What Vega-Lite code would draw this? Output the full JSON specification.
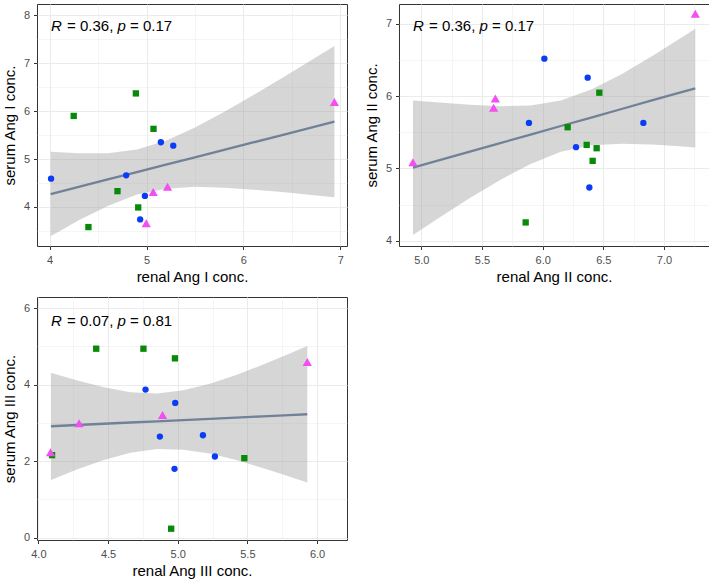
{
  "$schema": "https://vega.github.io/schema/vega-lite/v6.json",
  "padding": {"left": 1, "top": 3, "right": 0, "bottom": 0},
  "background": "white",
  "datasets": {
    "pts": [
      {"panel": "I", "grp": "a", "renal": 4.014, "serum": 4.59},
      {"panel": "I", "grp": "a", "renal": 4.79, "serum": 4.66},
      {"panel": "I", "grp": "a", "renal": 5.148, "serum": 5.35},
      {"panel": "I", "grp": "a", "renal": 5.276, "serum": 5.28},
      {"panel": "I", "grp": "a", "renal": 4.983, "serum": 4.23},
      {"panel": "I", "grp": "a", "renal": 4.934, "serum": 3.74},
      {"panel": "I", "grp": "b", "renal": 4.89, "serum": 6.37},
      {"panel": "I", "grp": "b", "renal": 4.248, "serum": 5.9},
      {"panel": "I", "grp": "b", "renal": 5.072, "serum": 5.63},
      {"panel": "I", "grp": "b", "renal": 4.7, "serum": 4.33},
      {"panel": "I", "grp": "b", "renal": 4.914, "serum": 3.99},
      {"panel": "I", "grp": "b", "renal": 4.4, "serum": 3.58},
      {"panel": "I", "grp": "c", "renal": 6.94, "serum": 6.19},
      {"panel": "I", "grp": "c", "renal": 5.217, "serum": 4.42},
      {"panel": "I", "grp": "c", "renal": 5.069, "serum": 4.31},
      {"panel": "I", "grp": "c", "renal": 4.997, "serum": 3.66},
      {"panel": "II", "grp": "a", "renal": 6.014, "serum": 6.517},
      {"panel": "II", "grp": "a", "renal": 6.371, "serum": 6.254},
      {"panel": "II", "grp": "a", "renal": 5.887, "serum": 5.629},
      {"panel": "II", "grp": "a", "renal": 6.83, "serum": 5.629},
      {"panel": "II", "grp": "a", "renal": 6.275, "serum": 5.293},
      {"panel": "II", "grp": "a", "renal": 6.385, "serum": 4.736},
      {"panel": "II", "grp": "b", "renal": 6.467, "serum": 6.047},
      {"panel": "II", "grp": "b", "renal": 6.206, "serum": 5.569},
      {"panel": "II", "grp": "b", "renal": 6.363, "serum": 5.325},
      {"panel": "II", "grp": "b", "renal": 6.445, "serum": 5.279},
      {"panel": "II", "grp": "b", "renal": 6.412, "serum": 5.104},
      {"panel": "II", "grp": "b", "renal": 5.86, "serum": 4.253},
      {"panel": "II", "grp": "c", "renal": 7.258, "serum": 7.138},
      {"panel": "II", "grp": "c", "renal": 5.61, "serum": 5.965},
      {"panel": "II", "grp": "c", "renal": 5.596, "serum": 5.84},
      {"panel": "II", "grp": "c", "renal": 4.931, "serum": 5.086},
      {"panel": "III", "grp": "b", "renal": 4.415, "serum": 4.939},
      {"panel": "III", "grp": "b", "renal": 4.754, "serum": 4.939},
      {"panel": "III", "grp": "b", "renal": 4.98, "serum": 4.687},
      {"panel": "III", "grp": "b", "renal": 4.098, "serum": 2.157},
      {"panel": "III", "grp": "b", "renal": 5.478, "serum": 2.078},
      {"panel": "III", "grp": "b", "renal": 4.953, "serum": 0.235},
      {"panel": "III", "grp": "a", "renal": 4.769, "serum": 3.87},
      {"panel": "III", "grp": "a", "renal": 4.982, "serum": 3.522},
      {"panel": "III", "grp": "a", "renal": 4.872, "serum": 2.643},
      {"panel": "III", "grp": "a", "renal": 5.181, "serum": 2.678},
      {"panel": "III", "grp": "a", "renal": 5.267, "serum": 2.122},
      {"panel": "III", "grp": "a", "renal": 4.977, "serum": 1.8},
      {"panel": "III", "grp": "c", "renal": 5.93, "serum": 4.59},
      {"panel": "III", "grp": "c", "renal": 4.891, "serum": 3.209},
      {"panel": "III", "grp": "c", "renal": 4.292, "serum": 2.991},
      {"panel": "III", "grp": "c", "renal": 4.087, "serum": 2.235}
    ],
    "fit": [
      {"panel": "I", "renal": 4.01, "fit": 4.27, "lo": 3.39, "hi": 5.15},
      {"panel": "I", "renal": 4.3, "fit": 4.419, "lo": 3.72, "hi": 5.12},
      {"panel": "I", "renal": 4.6, "fit": 4.574, "lo": 4.02, "hi": 5.12},
      {"panel": "I", "renal": 4.9, "fit": 4.728, "lo": 4.26, "hi": 5.2},
      {"panel": "I", "renal": 5.2, "fit": 4.883, "lo": 4.38, "hi": 5.38},
      {"panel": "I", "renal": 5.5, "fit": 5.037, "lo": 4.42, "hi": 5.66},
      {"panel": "I", "renal": 5.8, "fit": 5.192, "lo": 4.4, "hi": 5.98},
      {"panel": "I", "renal": 6.1, "fit": 5.346, "lo": 4.36, "hi": 6.33},
      {"panel": "I", "renal": 6.4, "fit": 5.501, "lo": 4.31, "hi": 6.69},
      {"panel": "I", "renal": 6.7, "fit": 5.655, "lo": 4.25, "hi": 7.06},
      {"panel": "I", "renal": 6.94, "fit": 5.779, "lo": 4.2, "hi": 7.36},
      {"panel": "II", "renal": 4.931, "fit": 5.012, "lo": 4.08, "hi": 5.94},
      {"panel": "II", "renal": 5.15, "fit": 5.115, "lo": 4.32, "hi": 5.91},
      {"panel": "II", "renal": 5.4, "fit": 5.233, "lo": 4.59, "hi": 5.88},
      {"panel": "II", "renal": 5.65, "fit": 5.35, "lo": 4.84, "hi": 5.86},
      {"panel": "II", "renal": 5.9, "fit": 5.468, "lo": 5.06, "hi": 5.87},
      {"panel": "II", "renal": 6.15, "fit": 5.586, "lo": 5.23, "hi": 5.94},
      {"panel": "II", "renal": 6.4, "fit": 5.703, "lo": 5.32, "hi": 6.09},
      {"panel": "II", "renal": 6.65, "fit": 5.821, "lo": 5.34, "hi": 6.3},
      {"panel": "II", "renal": 6.9, "fit": 5.939, "lo": 5.33, "hi": 6.55},
      {"panel": "II", "renal": 7.1, "fit": 6.033, "lo": 5.31, "hi": 6.76},
      {"panel": "II", "renal": 7.258, "fit": 6.107, "lo": 5.29, "hi": 6.93},
      {"panel": "III", "renal": 4.09, "fit": 2.913, "lo": 1.51, "hi": 4.31},
      {"panel": "III", "renal": 4.28, "fit": 2.945, "lo": 1.79, "hi": 4.11},
      {"panel": "III", "renal": 4.47, "fit": 2.978, "lo": 2.03, "hi": 3.93},
      {"panel": "III", "renal": 4.66, "fit": 3.01, "lo": 2.22, "hi": 3.8},
      {"panel": "III", "renal": 4.85, "fit": 3.042, "lo": 2.32, "hi": 3.77},
      {"panel": "III", "renal": 5.04, "fit": 3.075, "lo": 2.3, "hi": 3.85},
      {"panel": "III", "renal": 5.23, "fit": 3.107, "lo": 2.2, "hi": 4.02},
      {"panel": "III", "renal": 5.42, "fit": 3.139, "lo": 2.03, "hi": 4.25},
      {"panel": "III", "renal": 5.61, "fit": 3.172, "lo": 1.82, "hi": 4.52},
      {"panel": "III", "renal": 5.8, "fit": 3.204, "lo": 1.6, "hi": 4.81},
      {"panel": "III", "renal": 5.93, "fit": 3.226, "lo": 1.44, "hi": 5.01}
    ],
    "lab": [
      {"panel": "I", "lx": 4.014, "ly": 7.77, "rlab": "= 0.36,", "plab": "= 0.17"},
      {"panel": "II", "lx": 4.932, "ly": 6.966, "rlab": "= 0.36,", "plab": "= 0.17"},
      {"panel": "III", "lx": 4.091, "ly": 5.67, "rlab": "= 0.07,", "plab": "= 0.81"}
    ]
  },
  "concat": [
    {
      "width": 310,
      "height": 242,
      "layer": [
        {
          "data": {"name": "fit"},
          "transform": [{"filter": "datum.panel === 'I'"}],
          "mark": {"type": "area", "color": "#999999", "opacity": 0.4},
          "encoding": {
            "x": {"field": "renal", "type": "quantitative", "title": "renal Ang I conc.",
              "scale": {"domain": [3.869, 7.07], "nice": false, "zero": false},
              "axis": {"values": [4, 4.5, 5, 5.5, 6, 6.5, 7], "tickCount": 40, "labelOverlap": false,
                "labelExpr": "datum.value % 1 !== 0 ? '' : format(datum.value, '.0f')",
                "gridColor": "#ebebeb",
                "gridWidth": {"condition": {"test": "datum.value % 1 !== 0", "value": 0.5}, "value": 1},
                "tickOpacity": {"condition": {"test": "datum.value % 1 !== 0", "value": 0}, "value": 1}}},
            "y": {"field": "lo", "type": "quantitative", "title": "serum Ang I conc.",
              "scale": {"domain": [3.185, 8.236], "nice": false, "zero": false},
              "axis": {"values": [3.5, 4, 4.5, 5, 5.5, 6, 6.5, 7, 7.5, 8], "tickCount": 40, "labelOverlap": false,
                "labelExpr": "datum.value % 1 !== 0 ? '' : format(datum.value, '.0f')",
                "gridColor": "#ebebeb",
                "gridWidth": {"condition": {"test": "datum.value % 1 !== 0", "value": 0.5}, "value": 1},
                "tickOpacity": {"condition": {"test": "datum.value % 1 !== 0", "value": 0}, "value": 1}}},
            "y2": {"field": "hi"}
          }
        },
        {
          "data": {"name": "fit"},
          "transform": [{"filter": "datum.panel === 'I'"}],
          "mark": {"type": "line", "color": "#718198", "strokeWidth": 2.3},
          "encoding": {
            "x": {"field": "renal", "type": "quantitative", "title": "renal Ang I conc.", "scale": {"domain": [3.869, 7.07], "nice": false, "zero": false}},
            "y": {"field": "fit", "type": "quantitative", "title": "serum Ang I conc.", "scale": {"domain": [3.185, 8.236], "nice": false, "zero": false}}
          }
        },
        {
          "data": {"name": "pts"},
          "transform": [{"filter": "datum.panel === 'I'"}],
          "mark": {"type": "point", "filled": true, "opacity": 1},
          "encoding": {
            "x": {"field": "renal", "type": "quantitative", "title": "renal Ang I conc.", "scale": {"domain": [3.869, 7.07], "nice": false, "zero": false}},
            "y": {"field": "serum", "type": "quantitative", "title": "serum Ang I conc.", "scale": {"domain": [3.185, 8.236], "nice": false, "zero": false}},
            "color": {"field": "grp", "type": "nominal", "legend": null, "scale": {"domain": ["a", "b", "c"], "range": ["#0a3cf5", "#078a07", "#f24ef2"]}},
            "shape": {"field": "grp", "type": "nominal", "legend": null, "scale": {"domain": ["a", "b", "c"], "range": ["circle", "square", "triangle-up"]}},
            "size": {"condition": {"test": "datum.grp === 'c'", "value": 85}, "value": 40}
          }
        },
        {
          "data": {"name": "lab"},
          "transform": [{"filter": "datum.panel === 'I'"}],
          "mark": {"type": "text", "text": "R", "fontStyle": "italic", "fontSize": 15, "align": "left", "baseline": "middle", "color": "black"},
          "encoding": {
            "x": {"field": "lx", "type": "quantitative", "title": "renal Ang I conc.", "scale": {"domain": [3.869, 7.07], "nice": false, "zero": false}},
            "y": {"field": "ly", "type": "quantitative", "title": "serum Ang I conc.", "scale": {"domain": [3.185, 8.236], "nice": false, "zero": false}}
          }
        },
        {
          "data": {"name": "lab"},
          "transform": [{"filter": "datum.panel === 'I'"}],
          "mark": {"type": "text", "dx": 16, "fontSize": 15, "align": "left", "baseline": "middle", "color": "black"},
          "encoding": {
            "x": {"field": "lx", "type": "quantitative", "title": "renal Ang I conc.", "scale": {"domain": [3.869, 7.07], "nice": false, "zero": false}},
            "y": {"field": "ly", "type": "quantitative", "title": "serum Ang I conc.", "scale": {"domain": [3.185, 8.236], "nice": false, "zero": false}},
            "text": {"field": "rlab"}
          }
        },
        {
          "data": {"name": "lab"},
          "transform": [{"filter": "datum.panel === 'I'"}],
          "mark": {"type": "text", "text": "p", "dx": 66.5, "fontStyle": "italic", "fontSize": 15, "align": "left", "baseline": "middle", "color": "black"},
          "encoding": {
            "x": {"field": "lx", "type": "quantitative", "title": "renal Ang I conc.", "scale": {"domain": [3.869, 7.07], "nice": false, "zero": false}},
            "y": {"field": "ly", "type": "quantitative", "title": "serum Ang I conc.", "scale": {"domain": [3.185, 8.236], "nice": false, "zero": false}}
          }
        },
        {
          "data": {"name": "lab"},
          "transform": [{"filter": "datum.panel === 'I'"}],
          "mark": {"type": "text", "dx": 79, "fontSize": 15, "align": "left", "baseline": "middle", "color": "black"},
          "encoding": {
            "x": {"field": "lx", "type": "quantitative", "title": "renal Ang I conc.", "scale": {"domain": [3.869, 7.07], "nice": false, "zero": false}},
            "y": {"field": "ly", "type": "quantitative", "title": "serum Ang I conc.", "scale": {"domain": [3.185, 8.236], "nice": false, "zero": false}},
            "text": {"field": "plab"}
          }
        }
      ]
    },
    {
      "width": 310,
      "height": 242,
      "layer": [
        {
          "data": {"name": "fit"},
          "transform": [{"filter": "datum.panel === 'II'"}],
          "mark": {"type": "area", "color": "#999999", "opacity": 0.4},
          "encoding": {
            "x": {"field": "renal", "type": "quantitative", "title": "renal Ang II conc.",
              "scale": {"domain": [4.816, 7.371], "nice": false, "zero": false},
              "axis": {"values": [5, 5.25, 5.5, 5.75, 6, 6.25, 6.5, 6.75, 7, 7.25], "tickCount": 40, "labelOverlap": false,
                "labelExpr": "(datum.value * 2) % 1 !== 0 ? '' : format(datum.value, '.1f')",
                "gridColor": "#ebebeb",
                "gridWidth": {"condition": {"test": "(datum.value * 2) % 1 !== 0", "value": 0.5}, "value": 1},
                "tickOpacity": {"condition": {"test": "(datum.value * 2) % 1 !== 0", "value": 0}, "value": 1}}},
            "y": {"field": "lo", "type": "quantitative", "title": "serum Ang II conc.",
              "scale": {"domain": [3.927, 7.273], "nice": false, "zero": false},
              "axis": {"values": [4, 4.5, 5, 5.5, 6, 6.5, 7], "tickCount": 40, "labelOverlap": false,
                "labelExpr": "datum.value % 1 !== 0 ? '' : format(datum.value, '.0f')",
                "gridColor": "#ebebeb",
                "gridWidth": {"condition": {"test": "datum.value % 1 !== 0", "value": 0.5}, "value": 1},
                "tickOpacity": {"condition": {"test": "datum.value % 1 !== 0", "value": 0}, "value": 1}}},
            "y2": {"field": "hi"}
          }
        },
        {
          "data": {"name": "fit"},
          "transform": [{"filter": "datum.panel === 'II'"}],
          "mark": {"type": "line", "color": "#718198", "strokeWidth": 2.3},
          "encoding": {
            "x": {"field": "renal", "type": "quantitative", "title": "renal Ang II conc.", "scale": {"domain": [4.816, 7.371], "nice": false, "zero": false}},
            "y": {"field": "fit", "type": "quantitative", "title": "serum Ang II conc.", "scale": {"domain": [3.927, 7.273], "nice": false, "zero": false}}
          }
        },
        {
          "data": {"name": "pts"},
          "transform": [{"filter": "datum.panel === 'II'"}],
          "mark": {"type": "point", "filled": true, "opacity": 1},
          "encoding": {
            "x": {"field": "renal", "type": "quantitative", "title": "renal Ang II conc.", "scale": {"domain": [4.816, 7.371], "nice": false, "zero": false}},
            "y": {"field": "serum", "type": "quantitative", "title": "serum Ang II conc.", "scale": {"domain": [3.927, 7.273], "nice": false, "zero": false}},
            "color": {"field": "grp", "type": "nominal", "legend": null, "scale": {"domain": ["a", "b", "c"], "range": ["#0a3cf5", "#078a07", "#f24ef2"]}},
            "shape": {"field": "grp", "type": "nominal", "legend": null, "scale": {"domain": ["a", "b", "c"], "range": ["circle", "square", "triangle-up"]}},
            "size": {"condition": {"test": "datum.grp === 'c'", "value": 85}, "value": 40}
          }
        },
        {
          "data": {"name": "lab"},
          "transform": [{"filter": "datum.panel === 'II'"}],
          "mark": {"type": "text", "text": "R", "fontStyle": "italic", "fontSize": 15, "align": "left", "baseline": "middle", "color": "black"},
          "encoding": {
            "x": {"field": "lx", "type": "quantitative", "title": "renal Ang II conc.", "scale": {"domain": [4.816, 7.371], "nice": false, "zero": false}},
            "y": {"field": "ly", "type": "quantitative", "title": "serum Ang II conc.", "scale": {"domain": [3.927, 7.273], "nice": false, "zero": false}}
          }
        },
        {
          "data": {"name": "lab"},
          "transform": [{"filter": "datum.panel === 'II'"}],
          "mark": {"type": "text", "dx": 16, "fontSize": 15, "align": "left", "baseline": "middle", "color": "black"},
          "encoding": {
            "x": {"field": "lx", "type": "quantitative", "title": "renal Ang II conc.", "scale": {"domain": [4.816, 7.371], "nice": false, "zero": false}},
            "y": {"field": "ly", "type": "quantitative", "title": "serum Ang II conc.", "scale": {"domain": [3.927, 7.273], "nice": false, "zero": false}},
            "text": {"field": "rlab"}
          }
        },
        {
          "data": {"name": "lab"},
          "transform": [{"filter": "datum.panel === 'II'"}],
          "mark": {"type": "text", "text": "p", "dx": 66.5, "fontStyle": "italic", "fontSize": 15, "align": "left", "baseline": "middle", "color": "black"},
          "encoding": {
            "x": {"field": "lx", "type": "quantitative", "title": "renal Ang II conc.", "scale": {"domain": [4.816, 7.371], "nice": false, "zero": false}},
            "y": {"field": "ly", "type": "quantitative", "title": "serum Ang II conc.", "scale": {"domain": [3.927, 7.273], "nice": false, "zero": false}}
          }
        },
        {
          "data": {"name": "lab"},
          "transform": [{"filter": "datum.panel === 'II'"}],
          "mark": {"type": "text", "dx": 79, "fontSize": 15, "align": "left", "baseline": "middle", "color": "black"},
          "encoding": {
            "x": {"field": "lx", "type": "quantitative", "title": "renal Ang II conc.", "scale": {"domain": [4.816, 7.371], "nice": false, "zero": false}},
            "y": {"field": "ly", "type": "quantitative", "title": "serum Ang II conc.", "scale": {"domain": [3.927, 7.273], "nice": false, "zero": false}},
            "text": {"field": "plab"}
          }
        }
      ]
    },
    {
      "width": 310,
      "height": 243,
      "layer": [
        {
          "data": {"name": "fit"},
          "transform": [{"filter": "datum.panel === 'III'"}],
          "mark": {"type": "area", "color": "#999999", "opacity": 0.4},
          "encoding": {
            "x": {"field": "renal", "type": "quantitative", "title": "renal Ang III conc.",
              "scale": {"domain": [3.99, 6.215], "nice": false, "zero": false},
              "axis": {"values": [4, 4.25, 4.5, 4.75, 5, 5.25, 5.5, 5.75, 6], "tickCount": 40, "labelOverlap": false,
                "labelExpr": "(datum.value * 2) % 1 !== 0 ? '' : format(datum.value, '.1f')",
                "gridColor": "#ebebeb",
                "gridWidth": {"condition": {"test": "(datum.value * 2) % 1 !== 0", "value": 0.5}, "value": 1},
                "tickOpacity": {"condition": {"test": "(datum.value * 2) % 1 !== 0", "value": 0}, "value": 1}}},
            "y": {"field": "lo", "type": "quantitative", "title": "serum Ang III conc.",
              "scale": {"domain": [-0.06, 6.29], "nice": false, "zero": false},
              "axis": {"values": [0, 1, 2, 3, 4, 5, 6], "tickCount": 40, "labelOverlap": false,
                "labelExpr": "datum.value % 2 !== 0 ? '' : format(datum.value, '.0f')",
                "gridColor": "#ebebeb",
                "gridWidth": {"condition": {"test": "datum.value % 2 !== 0", "value": 0.5}, "value": 1},
                "tickOpacity": {"condition": {"test": "datum.value % 2 !== 0", "value": 0}, "value": 1}}},
            "y2": {"field": "hi"}
          }
        },
        {
          "data": {"name": "fit"},
          "transform": [{"filter": "datum.panel === 'III'"}],
          "mark": {"type": "line", "color": "#718198", "strokeWidth": 2.3},
          "encoding": {
            "x": {"field": "renal", "type": "quantitative", "title": "renal Ang III conc.", "scale": {"domain": [3.99, 6.215], "nice": false, "zero": false}},
            "y": {"field": "fit", "type": "quantitative", "title": "serum Ang III conc.", "scale": {"domain": [-0.06, 6.29], "nice": false, "zero": false}}
          }
        },
        {
          "data": {"name": "pts"},
          "transform": [{"filter": "datum.panel === 'III'"}],
          "mark": {"type": "point", "filled": true, "opacity": 1},
          "encoding": {
            "x": {"field": "renal", "type": "quantitative", "title": "renal Ang III conc.", "scale": {"domain": [3.99, 6.215], "nice": false, "zero": false}},
            "y": {"field": "serum", "type": "quantitative", "title": "serum Ang III conc.", "scale": {"domain": [-0.06, 6.29], "nice": false, "zero": false}},
            "color": {"field": "grp", "type": "nominal", "legend": null, "scale": {"domain": ["a", "b", "c"], "range": ["#0a3cf5", "#078a07", "#f24ef2"]}},
            "shape": {"field": "grp", "type": "nominal", "legend": null, "scale": {"domain": ["a", "b", "c"], "range": ["circle", "square", "triangle-up"]}},
            "size": {"condition": {"test": "datum.grp === 'c'", "value": 85}, "value": 40}
          }
        },
        {
          "data": {"name": "lab"},
          "transform": [{"filter": "datum.panel === 'III'"}],
          "mark": {"type": "text", "text": "R", "fontStyle": "italic", "fontSize": 15, "align": "left", "baseline": "middle", "color": "black"},
          "encoding": {
            "x": {"field": "lx", "type": "quantitative", "title": "renal Ang III conc.", "scale": {"domain": [3.99, 6.215], "nice": false, "zero": false}},
            "y": {"field": "ly", "type": "quantitative", "title": "serum Ang III conc.", "scale": {"domain": [-0.06, 6.29], "nice": false, "zero": false}}
          }
        },
        {
          "data": {"name": "lab"},
          "transform": [{"filter": "datum.panel === 'III'"}],
          "mark": {"type": "text", "dx": 16, "fontSize": 15, "align": "left", "baseline": "middle", "color": "black"},
          "encoding": {
            "x": {"field": "lx", "type": "quantitative", "title": "renal Ang III conc.", "scale": {"domain": [3.99, 6.215], "nice": false, "zero": false}},
            "y": {"field": "ly", "type": "quantitative", "title": "serum Ang III conc.", "scale": {"domain": [-0.06, 6.29], "nice": false, "zero": false}},
            "text": {"field": "rlab"}
          }
        },
        {
          "data": {"name": "lab"},
          "transform": [{"filter": "datum.panel === 'III'"}],
          "mark": {"type": "text", "text": "p", "dx": 66.5, "fontStyle": "italic", "fontSize": 15, "align": "left", "baseline": "middle", "color": "black"},
          "encoding": {
            "x": {"field": "lx", "type": "quantitative", "title": "renal Ang III conc.", "scale": {"domain": [3.99, 6.215], "nice": false, "zero": false}},
            "y": {"field": "ly", "type": "quantitative", "title": "serum Ang III conc.", "scale": {"domain": [-0.06, 6.29], "nice": false, "zero": false}}
          }
        },
        {
          "data": {"name": "lab"},
          "transform": [{"filter": "datum.panel === 'III'"}],
          "mark": {"type": "text", "dx": 79, "fontSize": 15, "align": "left", "baseline": "middle", "color": "black"},
          "encoding": {
            "x": {"field": "lx", "type": "quantitative", "title": "renal Ang III conc.", "scale": {"domain": [3.99, 6.215], "nice": false, "zero": false}},
            "y": {"field": "ly", "type": "quantitative", "title": "serum Ang III conc.", "scale": {"domain": [-0.06, 6.29], "nice": false, "zero": false}},
            "text": {"field": "plab"}
          }
        }
      ]
    }
  ],
  "columns": 2,
  "spacing": {"row": 11, "column": 15},
  "config": {
    "font": "Liberation Sans",
    "view": {"stroke": "#333333", "strokeWidth": 1},
    "axis": {
      "domain": false,
      "grid": true,
      "labelFont": "Liberation Sans",
      "labelFontSize": 11,
      "labelColor": "#4d4d4d",
      "tickColor": "#333333",
      "tickSize": 3.5,
      "labelPadding": 4,
      "titleFont": "Liberation Sans",
      "titleFontSize": 15,
      "titleFontWeight": "normal",
      "titleColor": "#000000",
      "labelFlush": false,
      "labelOverlap": false
    },
    "axisX": {"labelPadding": 5, "titlePadding": 4},
    "axisY": {"minExtent": 17, "maxExtent": 17, "titlePadding": 3},
    "text": {"font": "Liberation Sans"}
  }
}
